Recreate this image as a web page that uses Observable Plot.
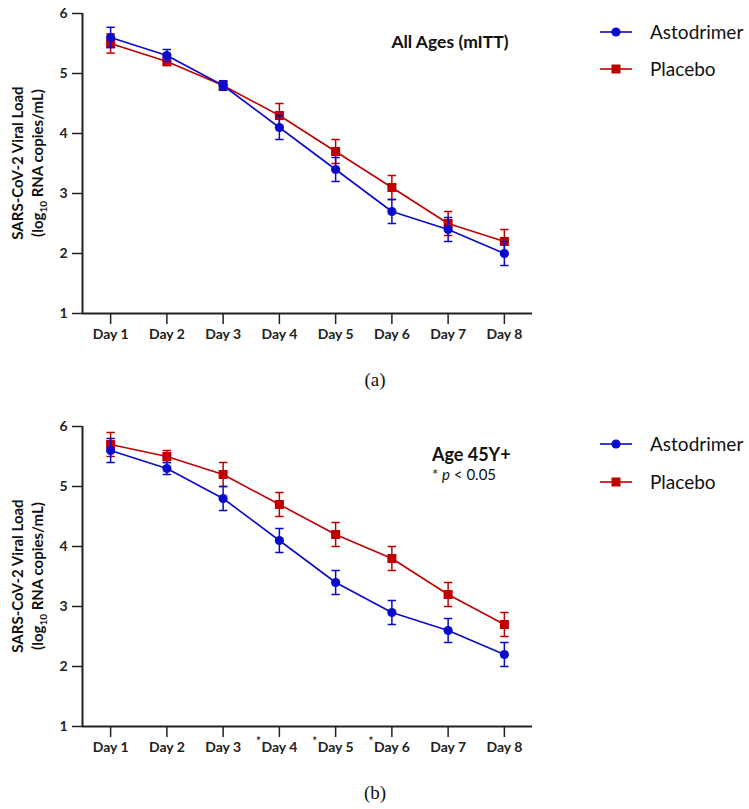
<!DOCTYPE html>
<html>
<head>
<meta charset="utf-8">
<script src="https://cdn.jsdelivr.net/npm/d3@7"></script>
<script src="https://cdn.jsdelivr.net/npm/@observablehq/plot@0.6"></script>
<style>
  body { margin: 0; background: #fff; }
  #root { position: relative; width: 749px; height: 809px; overflow: hidden; }
  .panel { position: absolute; left: 0; }
  .cap { position: absolute; width: 749px; left: 0; text-align: center; font-family: "Liberation Serif", serif; font-size: 19px; color: #111; }
  .cap span { position: absolute; left: 375px; transform: translate(-50%, -50%); }
</style>
</head>
<body>
<div id="root">
  <div class="panel" id="pa" style="top:0px"></div>
  <div class="cap" style="top:380px"><span>(a)</span></div>
  <div class="panel" id="pb" style="top:413px"></div>
  <div class="cap" style="top:793px"><span>(b)</span></div>
</div>
<script>
const dayLabels = ["Day 1", "Day 2", "Day 3", "Day 4", "Day 5", "Day 6", "Day 7", "Day 8"];
const dayNums = [1, 2, 3, 4, 5, 6, 7, 8];
const yTicks = [1, 2, 3, 4, 5, 6];
const seriesNames = ["Astodrimer", "Placebo"];
const seriesColors = ["#0a0acc", "#c00000"];

// Panel (a): All Ages (mITT)
const astoAll = [5.6, 5.3, 4.8, 4.1, 3.4, 2.7, 2.4, 2.0];
const astoAllErr = [0.17, 0.1, 0.08, 0.2, 0.2, 0.2, 0.2, 0.2];
const placAll = [5.5, 5.2, 4.8, 4.3, 3.7, 3.1, 2.5, 2.2];
const placAllErr = [0.16, 0.07, 0.07, 0.2, 0.2, 0.2, 0.2, 0.2];

// Panel (b): Age 45Y+
const astoOld = [5.6, 5.3, 4.8, 4.1, 3.4, 2.9, 2.6, 2.2];
const astoOldErr = [0.2, 0.1, 0.2, 0.2, 0.2, 0.2, 0.2, 0.2];
const placOld = [5.7, 5.5, 5.2, 4.7, 4.2, 3.8, 3.2, 2.7];
const placOldErr = [0.2, 0.1, 0.2, 0.2, 0.2, 0.2, 0.2, 0.2];
const starredDays = ["Day 4", "Day 5", "Day 6"];

const FONT = "Lato, 'Open Sans', sans-serif";
const AX = "#222";

function rows(vals, errs) {
  return vals.map((v, i) => ({day: dayNums[i], value: v, lo: v - errs[i], hi: v + errs[i]}));
}

function seriesMarks(data, color, symbol, r) {
  return [
    Plot.ruleX(data, {x: "day", y1: "lo", y2: "hi", stroke: color, strokeWidth: 1.5}),
    Plot.link(data, {x1: d => d.day - 0.075, x2: d => d.day + 0.075, y1: "hi", y2: "hi", stroke: color, strokeWidth: 1.5}),
    Plot.link(data, {x1: d => d.day - 0.075, x2: d => d.day + 0.075, y1: "lo", y2: "lo", stroke: color, strokeWidth: 1.5}),
    Plot.line(data, {x: "day", y: "value", stroke: color, strokeWidth: 1.6}),
    Plot.dot(data, {x: "day", y: "value", fill: color, stroke: "none", symbol: symbol, r: r})
  ];
}

function makePanel(target, asto, astoErr, plac, placErr, opts) {
  const a = rows(asto, astoErr);
  const p = rows(plac, placErr);
  const plot = Plot.plot({
    width: 749,
    height: 400,
    marginTop: 13,
    marginBottom: 87,
    marginLeft: 82,
    marginRight: 217,
    style: {fontFamily: FONT, fontSize: "14px", fontWeight: "bold", color: AX, background: "transparent"},
    x: {type: "linear", domain: [0.5, 8.5]},
    y: {domain: [1, 6]},
    marks: [
      Plot.axisY({ticks: yTicks, tickSize: 10, tickPadding: 5, tickFormat: d => String(d), label: null, strokeWidth: 1.5, fontWeight: "bold", fontSize: 14}),
      Plot.axisX({ticks: dayNums, tickSize: 11, tickPadding: 5, tickFormat: d => dayLabels[d - 1], label: null, strokeWidth: 1.5, fontWeight: "bold", fontSize: 14}),
      Plot.ruleY([1], {stroke: AX, strokeWidth: 2}),
      Plot.ruleX([0.5], {y1: 1, y2: 6, stroke: AX, strokeWidth: 2}),
      ...seriesMarks(p, seriesColors[1], "square", 5.1),
      ...seriesMarks(a, seriesColors[0], "circle", 4.6)
    ]
  });
  const svg = d3.select(plot);
  const x = plot.scale("x");
  const y = plot.scale("y");
  const ymid = (y.apply(1) + y.apply(6)) / 2;

  // y-axis title, two lines with subscript
  svg.append("text")
    .attr("transform", `translate(23,${ymid}) rotate(-90)`)
    .attr("text-anchor", "middle")
    .style("font-family", FONT).style("font-size", "15px").style("font-weight", "bold").attr("fill", "#111")
    .text("SARS-CoV-2 Viral Load");
  const t2 = svg.append("text")
    .attr("transform", `translate(43,${ymid}) rotate(-90)`)
    .attr("text-anchor", "middle")
    .style("font-family", FONT).style("font-size", "15px").style("font-weight", "bold").attr("fill", "#111");
  t2.append("tspan").text("(log");
  t2.append("tspan").attr("font-size", "10px").attr("dy", "4").text("10");
  t2.append("tspan").attr("dy", "-4").text(" RNA copies/mL)");

  // panel annotation
  opts.annot(svg, x, y);

  // starred ticks
  if (opts.starred) {
    for (const s of opts.starred) {
      const d = dayNums[dayLabels.indexOf(s)];
      svg.append("text")
        .attr("text-anchor", "end")
        .attr("x", x.apply(d) - 17.5).attr("y", y.apply(1) + 20)
        .style("font-family", FONT).style("font-size", "13px").style("font-weight", "normal").attr("fill", "#111")
        .text("*");
    }
  }

  // legend
  const ly = opts.legendY;
  seriesNames.forEach((name, i) => {
    const g = svg.append("g");
    g.append("line").attr("x1", 600).attr("x2", 632).attr("y1", ly[i]).attr("y2", ly[i])
      .attr("stroke", seriesColors[i]).attr("stroke-width", 1.6);
    if (i === 0) {
      g.append("circle").attr("cx", 616).attr("cy", ly[i]).attr("r", 4.6).attr("fill", seriesColors[i]);
    } else {
      g.append("rect").attr("x", 611.5).attr("y", ly[i] - 4.5).attr("width", 9).attr("height", 9).attr("fill", seriesColors[i]);
    }
    g.append("text").attr("x", 650).attr("y", ly[i]).attr("dy", "0.35em")
      .attr("text-anchor", "start")
      .style("font-family", FONT).style("font-size", "19px").style("font-weight", "normal").attr("fill", "#111")
      .text(name);
  });

  document.getElementById(target).appendChild(plot);
}

makePanel("pa", astoAll, astoAllErr, placAll, placAllErr, {
  legendY: [32, 69],
  annot: (svg, x, y) => {
    svg.append("text").attr("x", x.apply(6.0)).attr("y", y.apply(5.52)).attr("dy", "0.35em")
      .attr("text-anchor", "start")
      .style("font-family", FONT).style("font-size", "17.5px").style("font-weight", "bold").attr("fill", "#111")
      .text("All Ages (mITT)");
  }
});

makePanel("pb", astoOld, astoOldErr, placOld, placOldErr, {
  legendY: [31, 69],
  starred: starredDays,
  annot: (svg, x, y) => {
    svg.append("text").attr("x", x.apply(6.72)).attr("y", y.apply(5.53)).attr("dy", "0.35em")
      .attr("text-anchor", "start")
      .style("font-family", FONT).style("font-size", "18px").style("font-weight", "bold").attr("fill", "#111")
      .text("Age 45Y+");
    const t = svg.append("text").attr("x", x.apply(6.72)).attr("y", y.apply(5.19)).attr("dy", "0.35em")
      .attr("text-anchor", "start")
      .style("font-family", FONT).style("font-size", "15px").style("font-weight", "normal").attr("fill", "#111");
    t.append("tspan").text("* ");
    t.append("tspan").style("font-style", "italic").text("p");
    t.append("tspan").text(" < 0.05");
  }
});
</script>
</body>
</html>
